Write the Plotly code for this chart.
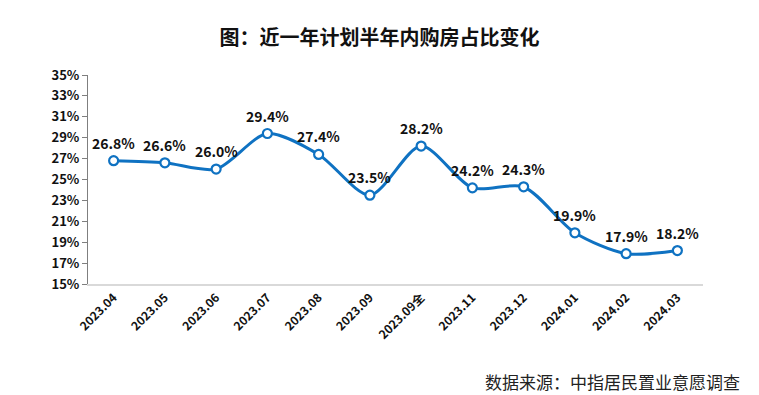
import plotly.graph_objects as go

categories = ["2023.04", "2023.05", "2023.06", "2023.07", "2023.08", "2023.09",
              "2023.09全", "2023.11", "2023.12", "2024.01", "2024.02", "2024.03"]
values = [26.8, 26.6, 26.0, 29.4, 27.4, 23.5, 28.2, 24.2, 24.3, 19.9, 17.9, 18.2]
y_ticks = list(range(15, 36, 2))

FONT = "Noto Sans CJK SC, Open Sans, sans-serif"
BLUE = "#0f72c2"

fig = go.Figure()
fig.add_trace(go.Scatter(
    x=categories, y=values, mode="lines+markers",
    line=dict(color=BLUE, width=3, shape="spline", smoothing=0.8),
    marker=dict(size=9, color="white", line=dict(color=BLUE, width=2.2)),
    cliponaxis=False, hoverinfo="skip",
))
for i, v in enumerate(values):
    fig.add_annotation(x=i, y=v, text=f"{v:.1f}%", showarrow=False, yshift=18,
                       xanchor="center", yanchor="middle",
                       font=dict(family=FONT, size=14, color="#111111", weight="bold"))

fig.update_layout(
    width=759, height=395,
    margin=dict(l=88, r=56, t=75, b=111),
    paper_bgcolor="white", plot_bgcolor="white",
    showlegend=False,
    font=dict(family=FONT, color="#111111"),
    title=dict(text="<b>图：近一年计划半年内购房占比变化</b>", x=0.5, xanchor="center",
               y=1 - 38 / 395, yanchor="middle", font=dict(family=FONT, size=20, color="#111111")),
)
fig.update_xaxes(
    type="category", showgrid=False, showline=True, linecolor="#d9d9d9", linewidth=1.5,
    tickangle=-45, ticks="", tickfont=dict(family=FONT, size=12, color="#111111", weight="bold"),
    range=[-0.5, len(categories) - 0.5],
)
fig.update_yaxes(
    range=[15, 35], tickvals=y_ticks, ticktext=[f"{t}%" for t in y_ticks],
    showgrid=False, showline=True, linecolor="#7f7f7f", linewidth=1,
    ticks="outside", ticklen=5, tickcolor="#7f7f7f",
    tickfont=dict(family=FONT, size=13, color="#111111", weight="bold"),
    zeroline=False,
)
fig.add_annotation(text="数据来源：中指居民置业意愿调查", xref="paper", yref="paper",
                   x=(742 - 88) / (759 - 88 - 56), y=-(381 - 284) / (284 - 75),
                   xanchor="right", yanchor="middle", showarrow=False,
                   font=dict(family=FONT, size=17, color="#222222"))

fig.write_html("out.html", config={"displayModeBar": False},
               post_script="document.body.style.margin='0';document.body.style.overflow='hidden';")
